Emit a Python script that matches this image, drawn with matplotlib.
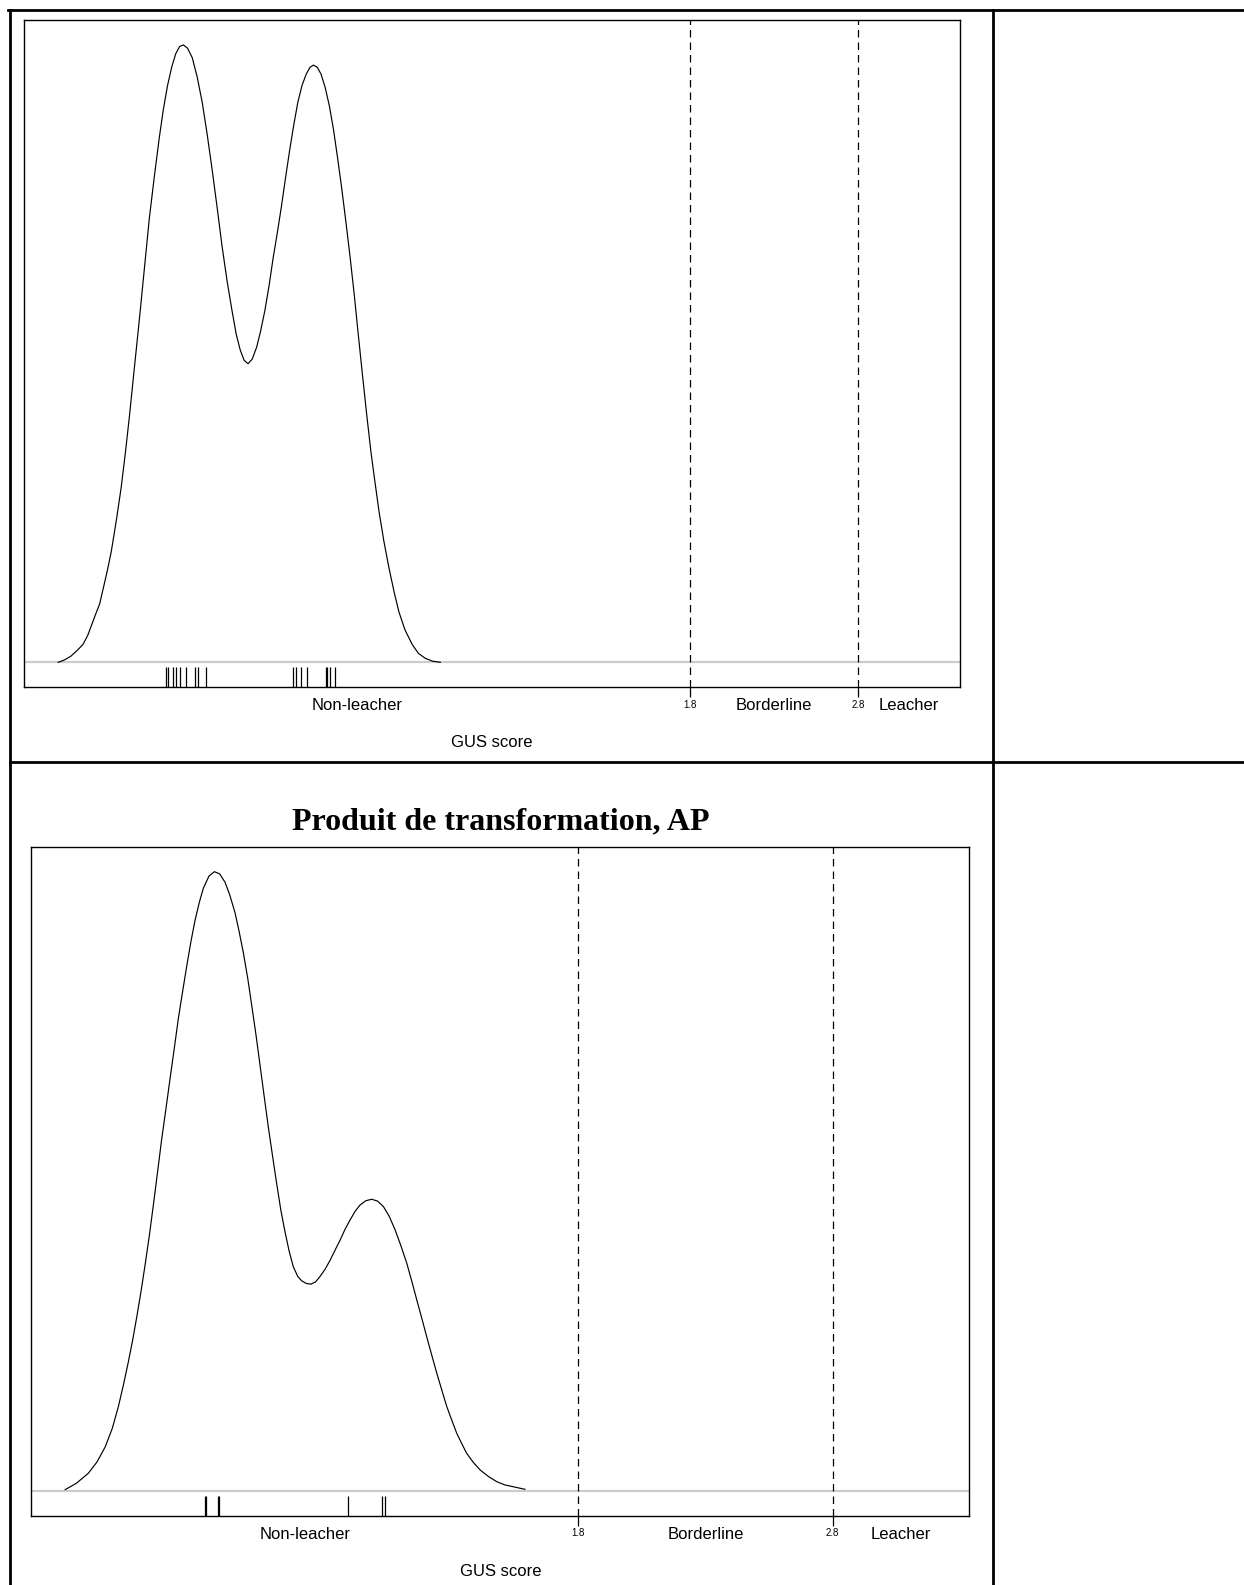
import matplotlib
matplotlib.use("Agg")
import matplotlib.pyplot as plt
from matplotlib.lines import Line2D

# --- data ----------------------------------------------------------------
# top panel: density curve of the GUS score (parent compound)
top_x = [-1.966, -1.930, -1.890, -1.850, -1.818, -1.790, -1.765, -1.740, -1.719,
         -1.695, -1.672, -1.650, -1.620, -1.591, -1.565, -1.541, -1.512, -1.482,
         -1.452, -1.423, -1.393, -1.364, -1.340, -1.315, -1.290, -1.266, -1.243,
         -1.220, -1.195, -1.167, -1.138, -1.108, -1.078, -1.048, -1.018, -0.989,
         -0.960, -0.930, -0.905, -0.881, -0.858, -0.835, -0.810, -0.783, -0.760,
         -0.735, -0.710, -0.686, -0.660, -0.636, -0.612, -0.587, -0.562, -0.538,
         -0.513, -0.488, -0.466, -0.445, -0.422, -0.400, -0.375, -0.350, -0.325,
         -0.301, -0.276, -0.251, -0.226, -0.202, -0.178, -0.153, -0.128, -0.103,
         -0.078, -0.054, -0.025, 0.005, 0.035, 0.064, 0.100, 0.143, 0.180,
         0.222, 0.265, 0.311]
top_y = [0.000, 0.004, 0.011, 0.022, 0.032, 0.048, 0.068, 0.088, 0.104,
         0.135, 0.165, 0.197, 0.252, 0.311, 0.375, 0.440, 0.525, 0.612,
         0.703, 0.791, 0.866, 0.934, 0.984, 1.027, 1.060, 1.084, 1.097,
         1.100, 1.094, 1.077, 1.043, 0.998, 0.940, 0.876, 0.808, 0.740,
         0.680, 0.626, 0.584, 0.556, 0.538, 0.532, 0.540, 0.562, 0.590,
         0.626, 0.670, 0.719, 0.766, 0.812, 0.862, 0.912, 0.958, 0.998,
         1.028, 1.048, 1.060, 1.064, 1.060, 1.048, 1.024, 0.991, 0.948,
         0.898, 0.843, 0.783, 0.720, 0.655, 0.584, 0.512, 0.442, 0.376,
         0.320, 0.268, 0.215, 0.168, 0.126, 0.090, 0.058, 0.032, 0.016,
         0.007, 0.002, 0.000]
top_rug = [-1.326, -1.310, -1.284, -1.263, -1.241, -1.203, -1.149, -1.131, -1.086,
           -0.569, -0.551, -0.519, -0.485, -0.370, -0.363, -0.345, -0.315]

# bottom panel: "Produit de transformation, AP"
bot_x = [-0.215, -0.170, -0.124, -0.090, -0.058, -0.030, -0.006, 0.014, 0.033,
         0.050, 0.066, 0.083, 0.099, 0.116, 0.132, 0.148, 0.164, 0.181,
         0.197, 0.214, 0.230, 0.247, 0.263, 0.279, 0.295, 0.312, 0.328,
         0.350, 0.371, 0.392, 0.413, 0.432, 0.452, 0.468, 0.485, 0.502,
         0.518, 0.535, 0.551, 0.567, 0.583, 0.600, 0.616, 0.632, 0.649,
         0.665, 0.681, 0.698, 0.714, 0.732, 0.750, 0.768, 0.786, 0.806,
         0.826, 0.845, 0.865, 0.884, 0.904, 0.924, 0.943, 0.966, 0.989,
         1.012, 1.035, 1.058, 1.081, 1.104, 1.127, 1.147, 1.166, 1.186,
         1.205, 1.225, 1.245, 1.265, 1.284, 1.304, 1.323, 1.343, 1.362,
         1.388, 1.415, 1.448, 1.480, 1.512, 1.545, 1.591]
bot_y = [0.004, 0.022, 0.049, 0.080, 0.121, 0.172, 0.232, 0.292, 0.354,
         0.414, 0.477, 0.548, 0.621, 0.703, 0.788, 0.876, 0.965, 1.050,
         1.132, 1.217, 1.299, 1.374, 1.443, 1.508, 1.566, 1.616, 1.655,
         1.688, 1.700, 1.694, 1.671, 1.635, 1.588, 1.537, 1.477, 1.408,
         1.332, 1.250, 1.166, 1.082, 0.999, 0.918, 0.843, 0.772, 0.710,
         0.658, 0.616, 0.590, 0.577, 0.570, 0.568, 0.574, 0.589, 0.609,
         0.634, 0.661, 0.689, 0.718, 0.744, 0.768, 0.785, 0.797, 0.801,
         0.796, 0.781, 0.754, 0.717, 0.673, 0.625, 0.575, 0.525, 0.474,
         0.424, 0.373, 0.323, 0.276, 0.232, 0.194, 0.159, 0.130, 0.104,
         0.079, 0.058, 0.040, 0.026, 0.017, 0.012, 0.005]
bot_rug = [0.334, 0.338, 0.386, 0.390, 0.897, 1.031, 1.040]

thresholds = [1.8, 2.8]
class_labels = ["Non-leacher", "Borderline", "Leacher"]
xlabel = "GUS score"
title_bottom = "Produit de transformation, AP"

W, H = 1244, 1585
fig = plt.figure(figsize=(W / 100, H / 100), dpi=100)
fig.patch.set_facecolor("white")


def px_axes(left, top, right, bottom):
    return fig.add_axes([left / W, 1 - bottom / H, (right - left) / W, (bottom - top) / H])


def fig_line(x0, y0, x1, y1, lw=2.0):
    fig.add_artist(Line2D([x0 / W, x1 / W], [1 - y0 / H, 1 - y1 / H],
                          transform=fig.transFigure, color="black", lw=lw))


def density_panel(ax, xs, ys, rug, xlim, label_y, gus_y):
    ymax = max(ys)
    ax.set_xlim(*xlim)
    ax.set_ylim(-0.04 * ymax, 1.04 * ymax)
    ax.axhline(0, color="#cccccc", lw=1.6, zorder=1)
    ax.plot(xs, ys, color="black", lw=0.85, zorder=3)
    ax.vlines(rug, 0, 0.03, transform=ax.get_xaxis_transform(),
              color="black", lw=0.9)
    for t in thresholds:
        ax.axvline(t, color="black", lw=0.9, ls=(0, (6, 4)))
    ax.set_yticks([])
    ax.set_xticks(thresholds)
    ax.set_xticklabels([str(t) for t in thresholds], fontsize=7,
                       family="Liberation Sans")
    ax.tick_params(axis="x", length=7, width=0.9, pad=2, direction="out")
    for sp in ax.spines.values():
        sp.set_linewidth(1.0)
    tr = ax.get_xaxis_transform()
    pos = [(xlim[0] + thresholds[0]) / 2, sum(thresholds) / 2, (thresholds[1] + xlim[1]) / 2]
    for p, lab in zip(pos, class_labels):
        ax.text(p, label_y, lab, transform=tr, ha="center", va="center",
                fontsize=12, family="Liberation Sans")
    ax.text(0.5, gus_y, xlabel, transform=ax.transAxes, ha="center", va="center",
            fontsize=12, family="Liberation Sans")


ax1 = px_axes(24.3, 20.2, 960.1, 687.0)
density_panel(ax1, top_x, top_y, top_rug, (-2.168, 3.408), -0.0277, -0.0838)

ax2 = px_axes(31.3, 846.9, 969.2, 1515.9)
density_panel(ax2, bot_x, bot_y, bot_rug, (-0.348, 3.336), -0.0272, -0.0832)

fig.text(501 / W, 1 - 821.5 / H, title_bottom, ha="center", va="center",
         fontsize=23, fontweight="bold", family="Liberation Serif")

# table borders of the surrounding document
fig_line(8, 10, W, 10)
fig_line(9.5, 10, 9.5, H)
fig_line(993, 10, 993, H)
fig_line(9.5, 762, W, 762)

fig.savefig("out.png", dpi=100, facecolor="white")
